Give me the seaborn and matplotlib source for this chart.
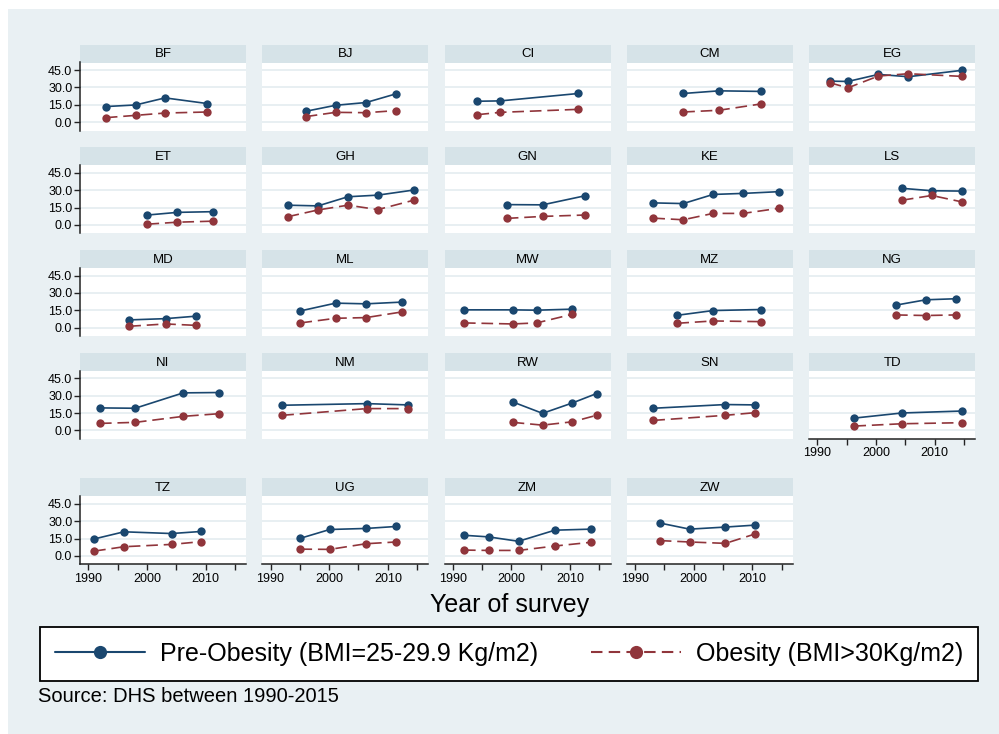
import pandas as pd
import matplotlib.pyplot as plt
import seaborn as sns
from matplotlib.lines import Line2D
from matplotlib.patches import Rectangle
from matplotlib.ticker import FormatStrFormatter

# Data (BMI prevalence, % of women).
countries = ["BF", "BJ", "CI", "CM", "EG",
             "ET", "GH", "GN", "KE", "LS",
             "MD", "ML", "MW", "MZ", "NG",
             "NI", "NM", "RW", "SN", "TD",
             "TZ", "UG", "ZM", "ZW"]

survey_years = [
    [1993.0, 1998.1, 2003.1, 2010.3],          # BF
    [1996.0, 2001.1, 2006.3, 2011.4],          # BJ
    [1994.2, 1998.1, 2011.4],                  # CI
    [1998.2, 2004.3, 2011.5],                  # CM
    [1992.1, 1995.2, 2000.4, 2005.5, 2014.6],  # EG
    [2000.1, 2005.2, 2011.3],                  # ET
    [1992.9, 1998.1, 2003.2, 2008.3, 2014.4],  # GH
    [1999.2, 2005.3, 2012.5],                  # GN
    [1993.1, 1998.2, 2003.3, 2008.4, 2014.5],  # KE
    [2004.4, 2009.5, 2014.6],                  # LS
    [1997.0, 2003.2, 2008.3],                  # MD
    [1995.1, 2001.1, 2006.3, 2012.4],          # ML
    [1991.9, 2000.2, 2004.3, 2010.4],          # MW
    [1997.2, 2003.3, 2011.5],                  # MZ
    [2003.4, 2008.5, 2013.6],                  # NG
    [1992.0, 1998.0, 2006.2, 2012.3],          # NI
    [1992.0, 2006.4, 2013.4],                  # NM
    [2000.2, 2005.3, 2010.4, 2014.5],          # RW
    [1993.1, 2005.4, 2010.5],                  # SN
    [1996.3, 2004.4, 2014.6],                  # TD
    [1991.0, 1996.1, 2004.2, 2009.3],          # TZ
    [1995.1, 2000.1, 2006.3, 2011.4],          # UG
    [1991.9, 1996.1, 2001.2, 2007.4, 2013.5],  # ZM
    [1994.2, 1999.3, 2005.4, 2010.5],          # ZW
]

pre_obesity = [
    [13.4, 14.8, 20.9, 16.0],
    [9.3, 14.5, 16.9, 24.4],
    [18.0, 18.3, 24.7],
    [24.7, 27.0, 26.5],
    [35.4, 35.1, 41.2, 39.2, 44.7],
    [8.5, 10.8, 11.4],
    [17.0, 16.4, 24.3, 25.7, 30.1],
    [17.5, 17.3, 25.1],
    [19.0, 18.4, 26.3, 27.2, 28.7],
    [31.6, 29.5, 29.2],
    [6.7, 7.8, 9.9],
    [14.5, 21.2, 20.6, 22.1],
    [15.4, 15.4, 15.1, 16.0],
    [10.7, 14.8, 15.7],
    [19.5, 24.1, 25.0],
    [19.5, 19.2, 32.5, 32.8],
    [21.8, 23.2, 22.1],
    [24.7, 14.8, 23.8, 31.9],
    [19.2, 22.4, 22.1],
    [10.7, 15.1, 16.8],
    [14.6, 20.8, 19.3, 21.1],
    [15.2, 22.8, 23.7, 25.4],
    [17.8, 16.4, 12.6, 22.2, 23.1],
    [28.4, 23.1, 24.9, 26.6],
]

obesity = [
    [3.8, 5.8, 7.8, 8.7],
    [4.7, 8.4, 8.1, 9.9],
    [6.4, 8.4, 11.0],
    [8.7, 10.2, 15.7],
    [34.0, 29.6, 39.8, 41.8, 39.5],
    [0.6, 2.3, 3.2],
    [7.0, 12.9, 17.0, 13.2, 21.3],
    [5.6, 7.3, 8.5],
    [5.8, 4.4, 9.9, 9.9, 14.3],
    [21.3, 25.4, 19.9],
    [1.2, 3.2, 2.0],
    [4.1, 8.1, 8.7, 13.6],
    [4.1, 3.2, 4.1, 11.6],
    [3.8, 5.8, 5.2],
    [11.0, 10.5, 11.0],
    [6.1, 7.0, 12.2, 14.5],
    [13.1, 18.9, 18.9],
    [7.0, 4.6, 7.5, 13.1],
    [8.7, 13.1, 15.4],
    [3.8, 5.8, 6.7],
    [4.1, 7.9, 9.9, 12.3],
    [5.8, 5.6, 10.5, 12.0],
    [5.0, 4.7, 4.7, 8.5, 11.7],
    [13.2, 12.0, 10.8, 19.0],
]

labels = ["Pre-Obesity (BMI=25-29.9 Kg/m2)", "Obesity (BMI>30Kg/m2)"]

# Long-form table for seaborn.
rows = []
for c, yrs, pre, ob in zip(countries, survey_years, pre_obesity, obesity):
    for yr, v in zip(yrs, pre):
        rows.append((c, yr, v, labels[0]))
    for yr, v in zip(yrs, ob):
        rows.append((c, yr, v, labels[1]))
df = pd.DataFrame(rows, columns=["country", "year", "value", "measure"])

# Stata s2color look.
sns.set_theme(style="white")
plt.rcParams["font.family"] = ["Liberation Sans", "DejaVu Sans"]
plt.rcParams["text.color"] = "black"
plt.rcParams["xtick.color"] = "black"
plt.rcParams["ytick.color"] = "black"

bg_col = "#e9f0f3"
strip_col = "#d6e3e8"
grid_col = "#e6eef1"
navy = "#1a476f"
maroon = "#90353b"
palette = {labels[0]: navy, labels[1]: maroon}
dashes = {labels[0]: "", labels[1]: (7, 3.5)}
markers = {labels[0]: "o", labels[1]: "o"}

W, H = 999, 734
fig = plt.figure(figsize=(W / 100, H / 100), dpi=100)
fig.patch.set_facecolor("white")
fig.add_artist(Rectangle((8 / W, 0), 1, (H - 9) / H, transform=fig.transFigure,
                         facecolor=bg_col, edgecolor="none", zorder=-10))


def px_axes(left, top, width, height):
    return fig.add_axes([left / W, 1 - (top + height) / H, width / W, height / H])


row_tops = [44.5, 147.3, 250.1, 352.9, 478.3]
panel_w, strip_h, plot_h = 166, 18, 68

for i, country in enumerate(countries):
    r, c = divmod(i, 5)
    left = 80 + 182.3 * c
    top = row_tops[r]

    # Strip header.
    ax_s = px_axes(left, top, panel_w, strip_h)
    ax_s.set_facecolor(strip_col)
    ax_s.set_xticks([])
    ax_s.set_yticks([])
    for sp in ax_s.spines.values():
        sp.set_visible(False)
    ax_s.text(0.5, 0.45, country, ha="center", va="center", fontsize=9.5,
              transform=ax_s.transAxes)

    # Panel.
    ax = px_axes(left, top + strip_h, panel_w, plot_h)
    ax.set_facecolor("white")
    sub = df[df["country"] == country]
    sns.lineplot(data=sub, x="year", y="value", hue="measure", style="measure",
                 palette=palette, dashes=dashes, markers=markers,
                 hue_order=labels, style_order=labels, estimator=None,
                 markersize=6, markeredgewidth=0, linewidth=1.2,
                 legend=False, ax=ax)
    ax.set_xlabel("")
    ax.set_ylabel("")
    ax.set_xlim(1988.6, 2016.9)
    ax.set_ylim(-7.3, 51.5)
    ax.set_yticks([0, 15, 30, 45])
    ax.yaxis.grid(True, color=grid_col, linewidth=1.3)
    ax.xaxis.grid(False)
    ax.set_axisbelow(True)
    for sp in ax.spines.values():
        sp.set_visible(False)

    if c == 0:
        ax.spines["left"].set_visible(True)
        ax.spines["left"].set_color("#222222")
        ax.spines["left"].set_linewidth(1.1)
        ax.yaxis.set_major_formatter(FormatStrFormatter("%.1f"))
        ax.tick_params(axis="y", left=True, length=4, width=1, color="#222222",
                       direction="out", labelsize=9, pad=1.5)
    else:
        ax.tick_params(axis="y", left=False, labelleft=False)

    if r == 4 or country == "TD":
        ax.spines["bottom"].set_visible(True)
        ax.spines["bottom"].set_color("#222222")
        ax.spines["bottom"].set_linewidth(1.1)
        ax.set_xticks([1990, 2000, 2010])
        ax.set_xticklabels(["1990", "2000", "2010"])
        ax.set_xticks([1995, 2005, 2015], minor=True)
        ax.tick_params(axis="x", which="both", bottom=True, length=4, width=1,
                       color="#222222", direction="out", labelsize=9, pad=2)
    else:
        ax.tick_params(axis="x", which="both", bottom=False, labelbottom=False)

# Shared axis title, legend and note.
fig.text(510 / W, 1 - 605 / H, "Year of survey", ha="center", va="center",
         fontsize=18)

handles = [
    Line2D([], [], color=navy, lw=1.5, marker="o", markersize=9.5, mew=0),
    Line2D([], [], color=maroon, lw=1.5, marker="o", markersize=9.5, mew=0,
           dashes=(5.5, 3)),
]
leg = fig.legend(handles, labels, loc="center",
                 bbox_to_anchor=(509 / W, 1 - 654 / H), ncol=2, fontsize=18,
                 frameon=True, fancybox=False, edgecolor="black",
                 facecolor="white", framealpha=1, handlelength=3.6,
                 handletextpad=0.6, columnspacing=2.1, borderpad=0.6)
leg.get_frame().set_linewidth(1.3)

fig.text(38 / W, 1 - 697 / H, "Source: DHS between 1990-2015", ha="left",
         va="center", fontsize=14.5)

fig.savefig("out.png", dpi=100)
